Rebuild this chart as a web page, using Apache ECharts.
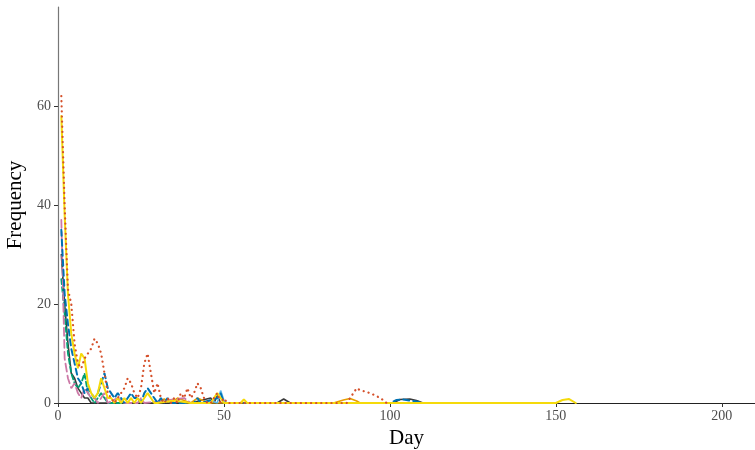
<!DOCTYPE html>
<html>
<head>
<meta charset="utf-8">
<script src="https://cdn.jsdelivr.net/npm/echarts@6/dist/echarts.min.js"></script>
<style>
  html, body { margin: 0; padding: 0; background: #fff; }
  #chart { width: 755px; height: 450px; }
</style>
</head>
<body>
<div id="chart"></div>
<script>
// Daily frequency per group; each list pairs a day with its count.
const xTicks = [0, 50, 100, 150, 200];
const yTicks = [0, 20, 40, 60];

const darkDays  = [1,2,3,4,5,6,7,8,9,10,20,30,40,46,47,48,49,55,66,68,70,101,103,106,108,110];
const darkFreq  = [30,20,12,6,5,3,2,1,1,0,0,0,0,1,0,1.5,0,0,0,0.8,0,0,0.7,0.8,0.5,0];

const yellowDays = [1,2,3,4,5,6,7,8,9,10,11,12,13,14,15,16,17,18,19,20,21,22,23,24,25,26,27,28,29,30,35,40,46,47,48,49,50,55,56,57,150,152,154,156];
const yellowFreq = [58,38,22,14,10,7,10,9,4,2,1,2,5,3,1,1,0,1,0,1,0,1,0,1,0,1,2,1,0,0,0.5,0,0,1,2,1,0,0,0.7,0,0,0.6,0.8,0];

const redDays = [1,2,3,4,5,6,7,8,9,10,11,12,13,14,15,16,17,18,19,20,21,22,23,24,25,26,27,28,29,30,31,32,33,34,35,36,37,38,39,40,41,42,43,44,45,46,47,48,49,50,51,87,88,89,90,91,92,94,96,98,99];
const redFreq = [62,40,23,20,12,8,7,9,10,11,13,12,10,6,2,1,0,1,2,3,5,4,2,1,3,8,10,6,2,4,1,0,1,0,1,0,2,1,3,1,2,4,3,1,0,0,1,2,0,1,0,0,1,2,3,2.6,2.4,2,1.4,0.6,0];

const blueDays = [1,2,3,4,5,6,7,8,9,10,11,12,13,14,15,16,17,18,19,20,21,22,23,24,25,26,27,28,29,30,31,32,33,34,41,42,43,48,49,50,100,102,104,106,108,110];
const blueFreq = [35,22,16,11,8,5,4,2,3,2,1,2,4,6,3,2,1,2,1,0,1,2,1,1,0,2,3,2,1,0,1,0,1,0,0,1,0,1,2,0,0,0.6,0.7,0.5,0.3,0];

const pinkDays = [1,2,3,4,5,6,7,8,9,10,11,12,13,14,15,18,20,24,25,26,38,40];
const pinkFreq = [37,9,5,3,4,2,1,3,2,1,1,0,1,2,0,1,0,0,1,0,1,0];

const greenDays = [1,2,3,4,5,6,7,8,9,10,11,12,13,14,15,20];
const greenFreq = [25,18,10,6,4,3,4,6,2,1,0,1,2,1,0,0];

const orangeDays = [30,32,34,36,38,40,42,44,45,83,86,88,90,91];
const orangeFreq = [0,0.8,0,1,0.5,0,1,0.4,0,0,0.6,0.9,0.4,0];

const skyDays = [44,46,48,49,50,51,52];
const skyFreq = [0,0.5,0,2.5,0.5,0,0];

function pairs(days, freq) {
  return days.map((d, i) => [d, freq[i]]);
}

const groups = [
  { name: 'A', days: darkDays,   freq: darkFreq,   color: '#3a3a3a', type: 'solid', width: 1.6 },
  { name: 'B', days: orangeDays, freq: orangeFreq, color: '#E69F00', type: 'solid', width: 1.6 },
  { name: 'C', days: skyDays,    freq: skyFreq,    color: '#56B4E9', type: 'solid', width: 1.6 },
  { name: 'D', days: greenDays,  freq: greenFreq,  color: '#009E73', type: [5, 3],  width: 1.8 },
  { name: 'E', days: pinkDays,   freq: pinkFreq,   color: '#CC79A7', type: [8, 4],  width: 1.8 },
  { name: 'F', days: blueDays,   freq: blueFreq,   color: '#0072B2', type: [6, 4],  width: 2 },
  { name: 'G', days: yellowDays, freq: yellowFreq, color: '#F5DA0A', type: 'solid', width: 2 },
  { name: 'H', days: redDays,    freq: redFreq,    color: '#D5502A', type: [0.1, 5], width: 2.2 }
];

const serif = 'Liberation Serif';
const chart = echarts.init(document.getElementById('chart'), null, { renderer: 'canvas' });

chart.setOption({
  animation: false,
  backgroundColor: '#ffffff',
  grid: { left: 58, right: 0, top: 7, bottom: 47, containLabel: false, outerBoundsMode: 'none' },
  xAxis: {
    type: 'value',
    min: 0,
    max: 210,
    interval: 50,
    name: 'Day',
    nameLocation: 'middle',
    nameGap: 24,
    nameTextStyle: { fontFamily: serif, fontSize: 21, color: '#000' },
    axisLine: { show: true, lineStyle: { color: '#222', width: 1.2 } },
    axisTick: { show: true, length: 4, lineStyle: { color: '#333' } },
    axisLabel: {
      fontFamily: serif, fontSize: 14, color: '#4d4d4d', margin: 6,
      showMaxLabel: false,
      formatter: v => (xTicks.indexOf(v) >= 0 ? String(v) : '')
    },
    splitLine: { show: false }
  },
  yAxis: {
    type: 'value',
    min: 0,
    max: 80,
    interval: 20,
    name: 'Frequency',
    nameLocation: 'middle',
    nameGap: 28,
    nameRotate: 90,
    nameTextStyle: { fontFamily: serif, fontSize: 21, color: '#000' },
    axisLine: { show: true, lineStyle: { color: '#777', width: 1.2 } },
    axisTick: { show: true, length: 4, lineStyle: { color: '#333' },
      interval: (i, v) => yTicks.indexOf(Number(v)) >= 0 },
    axisLabel: {
      fontFamily: serif, fontSize: 14, color: '#4d4d4d', margin: 7,
      showMaxLabel: false,
      formatter: v => (yTicks.indexOf(v) >= 0 ? String(v) : '')
    },
    splitLine: { show: false }
  },
  series: groups.map(g => ({
    name: g.name,
    type: 'line',
    data: pairs(g.days, g.freq),
    showSymbol: false,
    symbol: 'none',
    smooth: false,
    clip: true,
    lineStyle: { color: g.color, width: g.width, type: g.type, cap: 'round' },
    z: 2
  }))
});
</script>
</body>
</html>
